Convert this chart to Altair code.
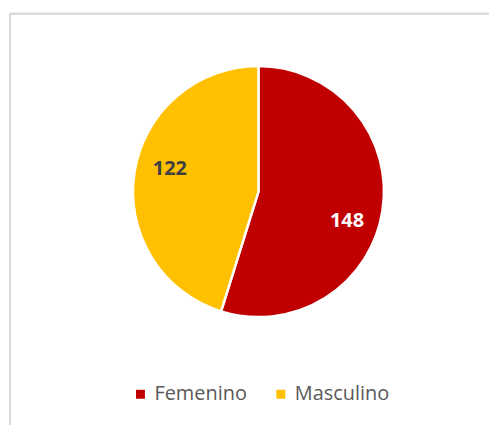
import altair as alt
import pandas as pd

categories = ["Femenino", "Masculino"]
values = [148, 122]
colors = ["#C00000", "#FFC000"]

df = pd.DataFrame({"sexo": categories, "n": values, "orden": [0, 1]})

W, H = 481, 413
CX, CY = 249.5, 178.5
R = 126
FONT = "Open Sans"

color_scale = alt.Scale(domain=categories, range=colors)

arcs = alt.Chart(df).mark_arc(outerRadius=R, stroke="white", strokeWidth=2.5).encode(
    theta=alt.Theta("n:Q", stack=True),
    order=alt.Order("orden:Q"),
    x=alt.value(CX),
    y=alt.value(CY),
    color=alt.Color(
        "sexo:N",
        scale=color_scale,
        sort=categories,
        legend=alt.Legend(
            title=None,
            orient="none",
            direction="horizontal",
            legendX=121,
            legendY=372,
            symbolType="square",
            symbolSize=81,
            symbolStrokeWidth=0,
            labelFont=FONT,
            labelFontSize=20,
            labelColor="#595959",
            labelOffset=4,
            columnPadding=24,
        ),
    ),
)


def label(cat, col, dx, dy):
    return alt.Chart(df).transform_joinaggregate(total="sum(n)").transform_window(
        cum="sum(n)", sort=[alt.SortField("orden")]
    ).transform_calculate(
        mid="(datum.cum - datum.n/2) / datum.total * 2 * PI"
    ).transform_filter(alt.datum.sexo == cat).mark_text(
        radius=94, font=FONT, fontSize=20, fontWeight="bold",
        color=col, dx=dx, dy=dy,
    ).encode(
        x=alt.value(CX), y=alt.value(CY),
        theta=alt.Theta("mid:Q", scale=None),
        text="n:Q",
    )


lab_f = label("Femenino", "white", -4, 15)
lab_m = label("Masculino", "#404040", 4, -9)

border = alt.Chart(df).mark_rule(color="#D9D9D9", strokeWidth=2).encode(
    x=alt.value(0), x2=alt.value(W), y=alt.value(0), y2=alt.value(0)
)
border_l = alt.Chart(df).mark_rule(color="#D9D9D9", strokeWidth=2).encode(
    x=alt.value(0), x2=alt.value(0), y=alt.value(0), y2=alt.value(H)
)

chart = alt.layer(border, border_l, arcs, lab_f, lab_m).properties(
    width=W,
    height=H,
    padding={"left": 1, "top": 4, "right": 0, "bottom": 0},
    background="white",
).configure_view(
    stroke=None,
)

chart.save("out.html", embed_options={"renderer": "svg", "actions": False})
